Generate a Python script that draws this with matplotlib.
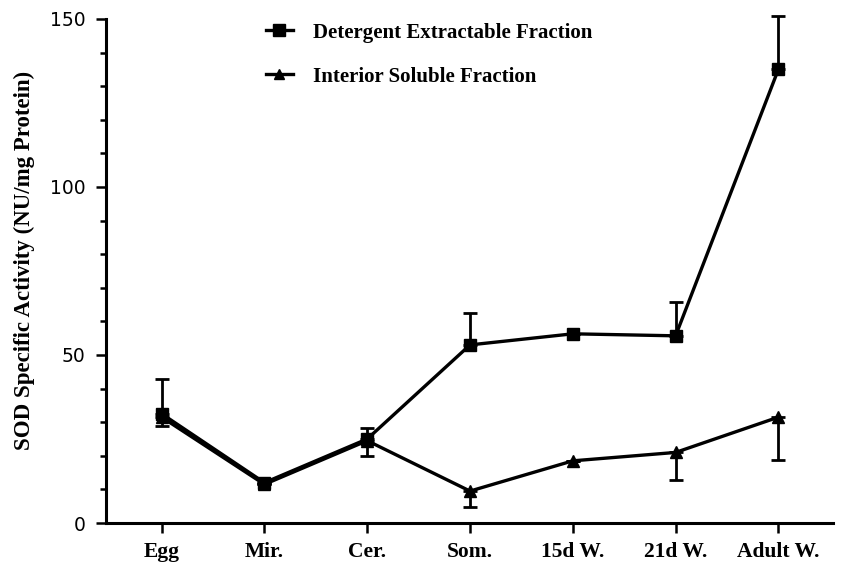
import matplotlib
matplotlib.use('Agg')
import matplotlib.pyplot as plt
from matplotlib.lines import Line2D
import numpy as np

stages = ['Egg', 'Mir.', 'Cer.', 'Som.', '15d W.', '21d W.', 'Adult W.']
detergent = [32.5, 12, 25, 53, 56.3, 55.7, 135]
detergent_err = [10.5, 0, 3.3, 9.5, 0, 10, 16]      # upper bars only
interior = [31.5, 11.5, 24.5, 9.5, 18.5, 21, 31.5]
interior_err = [2.5, 0, 4.5, 4.7, 0, 8.3, 12.7]     # lower bars only
names = ['Detergent Extractable Fraction', 'Interior Soluble Fraction']

serif = 'Liberation Serif'
x = np.arange(len(stages))

fig = plt.figure(figsize=(8.49, 5.67), dpi=100)
ax = fig.add_axes([0.125, 0.0776, 0.856, 0.889])

zeros = [0] * len(stages)
eb1 = ax.errorbar(x, detergent, yerr=[zeros, detergent_err], color='black', lw=2.4,
                  marker='s', ms=9, capsize=5, capthick=2, elinewidth=2)
eb2 = ax.errorbar(x, interior, yerr=[interior_err, zeros], color='black', lw=2.4,
                  marker='^', ms=8, capsize=5, capthick=2, elinewidth=2)
for eb in (eb1, eb2):
    for art in eb.lines[1] + eb.lines[2]:
        art.set_clip_on(False)
    eb.lines[0].set_clip_on(False)

ax.set_xlim(-0.54, 6.53)
ax.set_ylim(0, 150)
ax.set_xticks(x)
ax.set_xticklabels(stages, fontfamily=serif, fontweight='bold', fontsize=15.5)
ax.set_yticks([0, 50, 100, 150])
ax.set_yticks(np.arange(10, 150, 10), minor=True)
ax.set_yticklabels(['0', '50', '100', '150'], fontfamily='DejaVu Sans', fontsize=13.5)
ax.tick_params(axis='x', length=7, width=1.8, pad=7, direction='out')
ax.tick_params(axis='y', which='major', length=7, width=1.8, pad=8)
ax.tick_params(axis='y', which='minor', length=4.5, width=1.8)

for s in ['top', 'right']:
    ax.spines[s].set_visible(False)
for s in ['left', 'bottom']:
    ax.spines[s].set_linewidth(2.2)

ax.set_ylabel('SOD Specific Activity (NU/mg Protein)', fontfamily=serif,
              fontweight='bold', fontsize=16.5)
ax.yaxis.set_label_coords(-0.098, 0.52)

handles = [Line2D([], [], color='black', lw=2.4, marker='s', ms=8),
           Line2D([], [], color='black', lw=2.4, marker='^', ms=7)]
ax.legend(handles, names, loc='upper center', bbox_to_anchor=(0.444, 1.03),
          frameon=False, handlelength=1.3, labelspacing=1.15, handletextpad=0.95,
          prop={'family': serif, 'weight': 'bold', 'size': 15})

fig.savefig('out.png', dpi=100)
